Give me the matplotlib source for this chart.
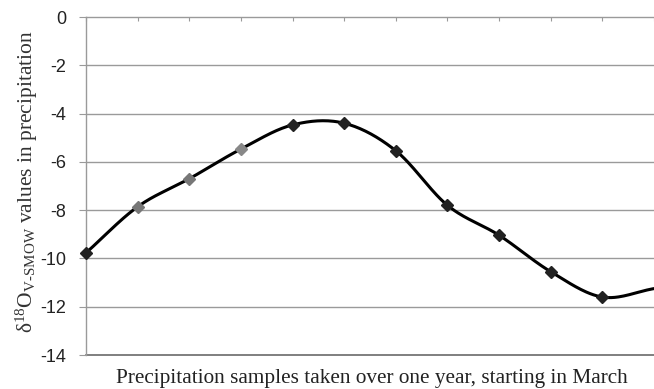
import numpy as np
import matplotlib.pyplot as plt

plt.rcParams['mathtext.fontset'] = 'custom'
plt.rcParams['mathtext.rm'] = 'Liberation Serif'
plt.rcParams['mathtext.it'] = 'Liberation Serif:italic'

# monthly d18O of precipitation, March onwards
months = np.arange(12)
d18o = [-9.77, -7.86, -6.70, -5.47, -4.47, -4.40, -5.54, -7.80, -9.04, -10.55, -11.60, -11.25]
marker_colors = ['#222222', '#777777', '#777777', '#888888', '#222222', '#222222',
                 '#222222', '#222222', '#222222', '#222222', '#222222', '#222222']
yticks = [0, -2, -4, -6, -8, -10, -12, -14]


def smooth(x, y, n=30):
    # Catmull-Rom curve through the points (like a spreadsheet "smoothed line")
    x = np.asarray(x, float)
    y = np.asarray(y, float)
    px = np.concatenate([[2 * x[0] - x[1]], x, [2 * x[-1] - x[-2]]])
    py = np.concatenate([[2 * y[0] - y[1]], y, [2 * y[-1] - y[-2]]])
    xs, ys = [], []
    t = np.linspace(0, 1, n)
    for i in range(1, len(px) - 2):
        for arr, out in ((px, xs), (py, ys)):
            p0, p1, p2, p3 = arr[i - 1], arr[i], arr[i + 1], arr[i + 2]
            seg = 0.5 * ((2 * p1) + (-p0 + p2) * t + (2 * p0 - 5 * p1 + 4 * p2 - p3) * t ** 2
                         + (-p0 + 3 * p1 - 3 * p2 + p3) * t ** 3)
            out.extend(seg)
    return np.array(xs), np.array(ys)


fig = plt.figure(figsize=(6.54, 3.89), dpi=100)
ax = fig.add_axes([86 / 654, 1 - 355 / 389, 1 - 86 / 654, (355 - 17) / 389])

for y in yticks[1:-1]:
    ax.axhline(y, color='#9a9a9a', lw=1.0, zorder=1)
ax.axhline(0, color='#9a9a9a', lw=1.0, zorder=1, clip_on=False)
ax.axhline(-14, color='#6a6a6a', lw=1.2, zorder=1, clip_on=False)

sx, sy = smooth(months, d18o)
ax.plot(sx, sy, color='black', lw=2.2, zorder=3, solid_capstyle='round')
# the last sample sits just past the right edge, only its line shows
for m, v, c in zip(months[:-1], d18o[:-1], marker_colors[:-1]):
    ax.plot(m, v, marker='D', ms=6.5, color=c, mec=c, zorder=4, clip_on=False)

ax.set_xlim(0, 11 * 568 / 572)
ax.set_ylim(-14, 0)
ax.set_yticks(yticks)
ax.set_yticklabels([str(v) for v in yticks], fontsize=13, family='Liberation Sans', color='#222222')
ax.tick_params(axis='y', length=5, width=0.8, color='#9a9a9a', pad=9)

# category ticks hang from the zero line
ax.set_xticks(months)
ax.set_xticklabels([])
ax.xaxis.set_ticks_position('top')
ax.tick_params(axis='x', direction='in', length=3, width=0.8, color='#9a9a9a')

for side in ['top', 'right', 'bottom']:
    ax.spines[side].set_visible(False)
ax.spines['left'].set_color('#9a9a9a')
ax.spines['left'].set_linewidth(1.0)

fig.text(27 / 654, 1 - 182 / 389,
         r'$\mathrm{\delta}^{18}\mathrm{O}_{\mathrm{V\text{-}SMOW}}$ values in precipitation',
         rotation=90, ha='center', va='center', fontsize=15.5, family='Liberation Serif',
         color='#333333')
fig.text(372 / 654, 1 - 378 / 389,
         'Precipitation samples taken over one year, starting in March',
         ha='center', va='center', fontsize=15.3, family='Liberation Serif', color='#222222')

fig.savefig('out.png', dpi=100)
